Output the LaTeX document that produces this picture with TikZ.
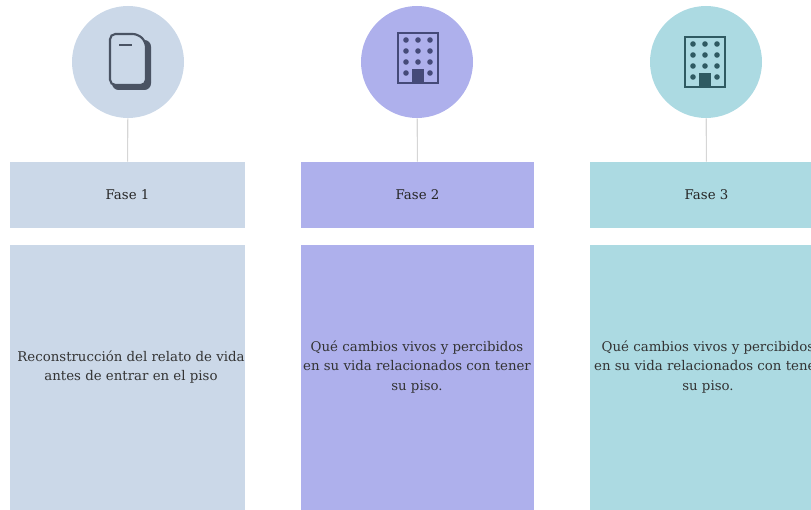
\documentclass[tikz,border=0pt]{standalone}
\usepackage{fontspec}
\setmainfont{DejaVu Serif}
\definecolor{colA}{HTML}{CBD8E8}
\definecolor{colB}{HTML}{AEB0EC}
\definecolor{colC}{HTML}{ACDAE2}
\definecolor{inkA}{HTML}{4A5363}
\definecolor{inkB}{HTML}{454A78}
\definecolor{inkC}{HTML}{2F5A62}
\definecolor{linkgrey}{HTML}{D6D6D6}
\tikzset{
  x=0.75pt,y=-0.75pt,
  disc/.style={circle,minimum size=84pt,inner sep=0pt,fill=#1},
  headbox/.style={rectangle,minimum width=#1*0.75pt,minimum height=49.5pt,inner sep=0pt,font=\fontsize{10}{12}\selectfont,text=black!85},
  bodybox/.style={rectangle,minimum width=#1*0.75pt,minimum height=198.75pt,inner sep=0pt},
  bodytext/.style={font=\fontsize{10}{14.6}\selectfont,text=black!80,align=center},
  link/.style={draw=linkgrey,line width=0.8pt}
}
\newcommand{\buildingicon}[3]{%
  \begin{scope}[shift={(#1,#2)}]
    \draw[#3,line width=1.3pt] (-20,-25) rectangle (20,25);
    \foreach \cx in {-12,0,12}\foreach \cy in {-18,-7,4}
      \fill[#3] (\cx,\cy) circle (2.8);
    \fill[#3] (-12,15) circle (2.8);
    \fill[#3] (12,15) circle (2.8);
    \fill[#3] (-6,11) rectangle (6,25);
  \end{scope}}
\begin{document}
\begin{tikzpicture}
\useasboundingbox (0,0) rectangle (811,510);
\clip (0,0) rectangle (811,510);
% discs
\node[disc=colA] (c1) at (128,62) {};
\node[disc=colB] (c2) at (417,62) {};
\node[disc=colC] (c3) at (706,62) {};
% header boxes
\node[headbox=235,fill=colA] (h1) at (127.5,195) {Fase 1};
\node[headbox=233,fill=colB] (h2) at (417.5,195) {Fase 2};
\node[headbox=233,fill=colC] (h3) at (706.5,195) {Fase 3};
% connectors
\draw[link] (c1) -- (h1);
\draw[link] (c2) -- (h2);
\draw[link] (c3) -- (h3);
% body boxes
\node[bodybox=235,fill=colA] (b1) at (127.5,377.5) {};
\node[bodybox=233,fill=colB] (b2) at (417.5,377.5) {};
\node[bodybox=233,fill=colC] (b3) at (706.5,377.5) {};
\node[bodytext] (t1) at (131,367) {Reconstrucción del relato de vida\\antes de entrar en el piso};
\node[bodytext] (t2) at (417,367) {Qué cambios vivos y percibidos\\en su vida relacionados con tener\\su piso.};
\node[bodytext] (t3) at (708,367) {Qué cambios vivos y percibidos\\en su vida relacionados con tener\\su piso.};
% document icon: back page, then front page
\fill[inkA,rounded corners=5pt] (112,40) rectangle (151,90);
\draw[inkA,fill=colA,line width=1.6pt,rounded corners=4pt] (126,34) -- (110,34) -- (110,85) -- (146,85) -- (146,42) -- (138,34) -- cycle;
\draw[inkA,line width=1.5pt] (119,45) -- (132,45);
% building icons
\buildingicon{418}{58}{inkB}
\buildingicon{705}{62}{inkC}
\end{tikzpicture}
\end{document}
